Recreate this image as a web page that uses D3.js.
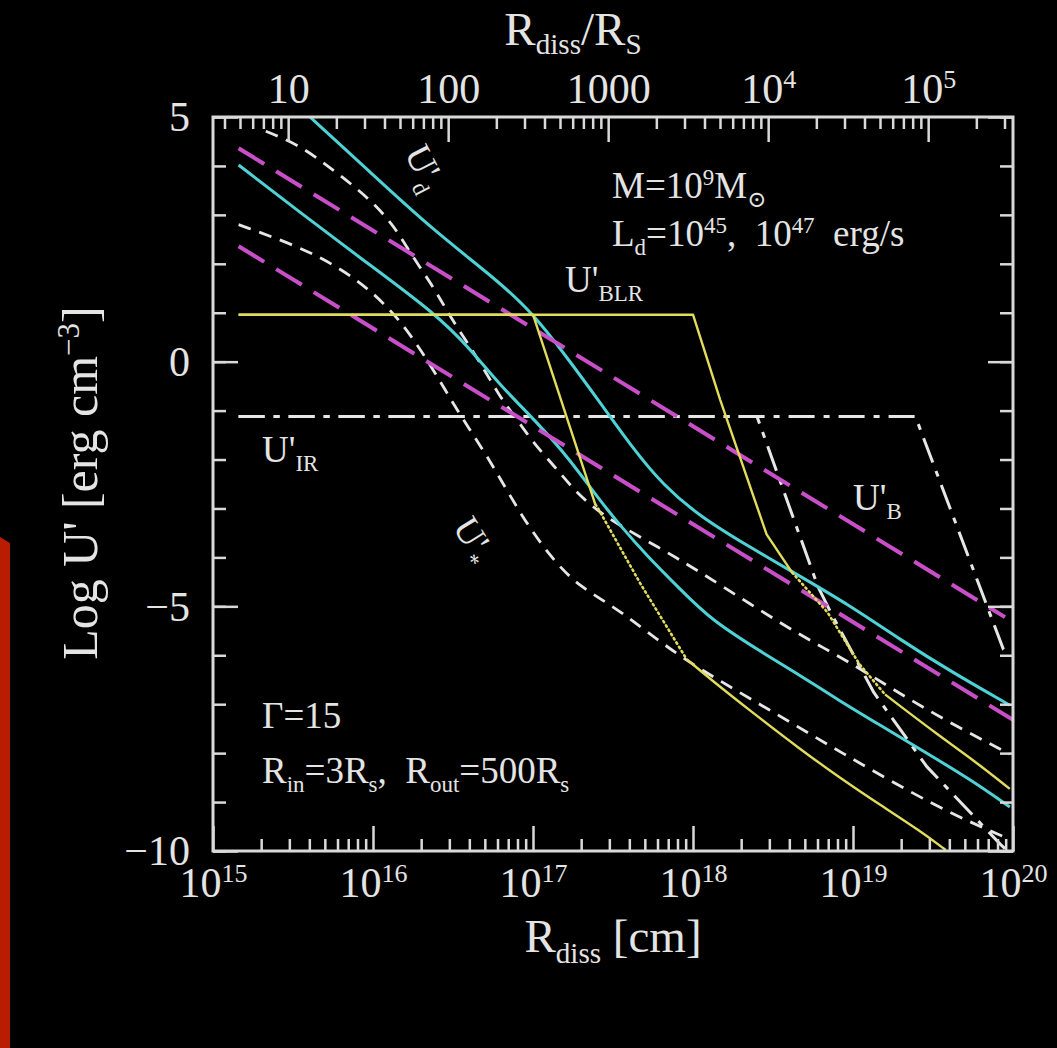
<!DOCTYPE html>
<html><head><meta charset="utf-8">
<script src="https://cdn.jsdelivr.net/npm/d3@7"></script>
<style>
html,body{margin:0;padding:0;background:#000;}
svg{display:block;}
text{font-family:"Liberation Serif","DejaVu Serif",serif;fill:#e4e4e4;white-space:pre;}
</style>
</head><body>
<svg id="chart" width="1057" height="1048"></svg>
<script>
// ---------------- data (log10 R [cm], log10 U' [erg cm^-3]) ----------------
const RS_CM = 2.95e14;                       // Schwarzschild radius for M = 1e9 Msun
const xMajor = [15, 16, 17, 18, 19, 20];
const xMajorExp = ["15", "16", "17", "18", "19", "20"];
const yMajor = [-10, -5, 0, 5];
const yMajorLabels = ["\u221210", "\u22125", "0", "5"];
const yMinor = [-10,-9,-8,-7,-6,-5,-4,-3,-2,-1,0,1,2,3,4,5];
const rsMajor = [10, 100, 1000, 1e4, 1e5];
const rsLabels = [["10",""], ["100",""], ["1000",""], ["10","4"], ["10","5"]];

// U'_d (disk), L = 1e47 and 1e45
const ud47 = [[15.59,5.05],[15.98,3.88],[16.36,2.73],[16.79,1.63],[17.0,0.98],[17.21,0.10],[17.42,-0.84],[17.63,-1.80],[17.81,-2.51],[18.04,-3.16],[18.36,-3.80],[18.63,-4.31],[18.98,-4.98],[19.29,-5.67],[19.61,-6.33],[19.98,-7.02]];
const ud45 = [[15.16,4.02],[15.54,3.06],[15.92,2.12],[16.40,0.96],[16.61,0.25],[16.79,-0.47],[17.04,-1.29],[17.23,-2.0],[17.40,-2.76],[17.54,-3.33],[17.71,-3.96],[17.92,-4.65],[18.11,-5.27],[18.42,-5.92],[18.67,-6.41],[18.92,-6.94],[19.17,-7.43],[19.44,-7.96],[19.73,-8.53],[19.98,-9.10]];
// U'_B (magnetic)
const ub47 = [[15.16,4.36],[19.95,-5.22]];
const ub45 = [[15.16,2.36],[20.0,-7.32]];
// U'_BLR
const blr45 = [[15.16,0.96],[17.0,0.96],[17.39,-2.92]];
const blr45Dot = [[17.39,-2.92],[17.40,-2.96],[17.67,-4.53],[17.96,-6.08]];
const blr45Tail = [[17.96,-6.08],[18.11,-6.49],[18.36,-7.14],[18.67,-7.92],[18.92,-8.51],[19.17,-9.06],[19.42,-9.59],[19.58,-9.98]];
const blr47 = [[15.16,0.96],[18.0,0.96],[18.17,-0.78],[18.46,-3.53],[18.62,-4.31]];
const blr47Dot = [[18.62,-4.31],[18.84,-5.12],[19.04,-6.18],[19.20,-6.80]];
const blr47Tail = [[19.20,-6.80],[19.54,-7.65],[19.76,-8.16],[19.98,-8.73]];
// U'_IR (torus)
const ir45 = [[15.16,-1.12],[18.40,-1.12],[18.78,-4.59],[18.86,-5.12],[19.13,-6.76],[19.46,-8.27],[19.92,-9.86],[19.95,-9.95]];
const ir47 = [[15.16,-1.12],[19.39,-1.12],[19.94,-5.88],[19.98,-5.98]];
// U'_* (white dashed)
const us45 = [[15.16,2.80],[15.54,2.35],[15.79,1.92],[15.98,1.47],[16.17,0.86],[16.36,-0.06],[16.54,-1.08],[16.73,-2.0],[16.92,-3.12],[17.11,-4.0],[17.29,-4.61],[17.54,-5.06],[17.90,-6.02],[18.42,-7.0],[18.92,-7.98],[19.54,-9.14],[19.98,-9.76]];
const us47 = [[15.33,4.71],[15.54,4.43],[15.75,3.92],[15.95,3.41],[16.12,2.84],[16.24,2.18],[16.39,1.47],[16.48,0.92],[16.65,0.10],[16.79,-0.71],[16.90,-1.18],[17.0,-1.65],[17.15,-2.20],[17.29,-2.75],[17.48,-3.24],[17.79,-3.80],[18.04,-4.29],[18.36,-4.96],[18.67,-5.59],[18.98,-6.14],[19.29,-6.78],[19.61,-7.39],[19.98,-8.02]];

// ---------------- drawing ----------------
const W = 1057, H = 1048;
const P = {l:213, r:1013, t:117, b:851};
const svg = d3.select("#chart");
svg.append("rect").attr("width", W).attr("height", H).attr("fill", "#000");
svg.append("path").attr("d", "M0,537L10,543L10,1048L0,1048Z").attr("fill", "#b81d04");

const x = d3.scaleLinear().domain([15, 20]).range([P.l, P.r]);
const y = d3.scaleLinear().domain([-10, 5]).range([P.b, P.t]);
const xr = d3.scaleLog().domain([1e15 / RS_CM, 1e20 / RS_CM]).range([P.l, P.r]);

const C = {cyan:"#4fd2d6", mag:"#c94fc9", yel:"#e2dc5c", wht:"#e6e6e6", frame:"#d9d9d9"};

function rich(t, parts, fs, subK) {
  let cur = 0;
  const sk = subK || 0.24;
  parts.forEach(([s, mode]) => {
    if (!s) return;
    const target = mode === "sup" ? -0.36 * fs : mode === "sub" ? sk * fs : 0;
    const ts = t.append("tspan").attr("dy", target - cur).text(s);
    if (mode) ts.attr("font-size", fs * 0.62);
    cur = target;
  });
}

svg.append("clipPath").attr("id", "clip").append("rect")
  .attr("x", P.l).attr("y", P.t).attr("width", P.r - P.l).attr("height", P.b - P.t);
const plot = svg.append("g").attr("clip-path", "url(#clip)");

const lineS = d3.line().x(d => x(d[0])).y(d => y(d[1])).curve(d3.curveBasis);
const lineL = d3.line().x(d => x(d[0])).y(d => y(d[1]));

function draw(data, gen, color, width, dash) {
  const p = plot.append("path").attr("d", gen(data)).attr("fill", "none")
    .attr("stroke", color).attr("stroke-width", width).attr("stroke-linejoin", "round");
  if (dash) p.attr("stroke-dasharray", dash);
  return p;
}

// IR dash-dot
draw(ir47, lineL, C.wht, 3, "26,9,6,9");
draw(ir45, lineL, C.wht, 3, "26,9,6,9");
// U'_* dashed
draw(us47, lineS, C.wht, 2.8, "13,9");
draw(us45, lineS, C.wht, 2.8, "13,9");
// cyan
draw(ud47, lineS, C.cyan, 3);
draw(ud45, lineS, C.cyan, 3);
// magenta
draw(ub47, lineL, C.mag, 4, "30,14");
draw(ub45, lineL, C.mag, 4, "30,14");
// BLR
draw(blr47, lineL, C.yel, 2.4);
draw(blr45, lineL, C.yel, 2.4);
draw(blr47Dot, lineL, C.yel, 2.6, "1.5,3.5").attr("stroke-linecap", "round");
draw(blr45Dot, lineL, C.yel, 2.6, "1.5,3.5").attr("stroke-linecap", "round");
draw(blr47Tail, lineS, C.yel, 2.4);
draw(blr45Tail, lineS, C.yel, 2.4);

// ---------------- axes ----------------
function styleAxis(g) {
  g.select(".domain").remove();
  g.selectAll(".tick line").attr("stroke", C.frame).attr("stroke-width", 2.5);
}
const minorX = [];
for (let d = 15; d < 20; d++) for (let k = 2; k <= 9; k++) minorX.push(d + Math.log10(k));
const minorR = [];
for (let e = 0; e <= 5; e++) for (let k = 1; k <= 9; k++) {
  const r = k * Math.pow(10, e);
  if (r >= xr.domain()[0] && r <= xr.domain()[1] && !rsMajor.includes(r)) minorR.push(r);
}

// bottom
svg.append("g").attr("transform", `translate(0,${P.b})`)
  .call(d3.axisBottom(x).tickValues(minorX).tickSize(-12).tickFormat("")).call(styleAxis);
const gb = svg.append("g").attr("transform", `translate(0,${P.b})`)
  .call(d3.axisBottom(x).tickValues(xMajor).tickSize(-25).tickPadding(0).tickFormat("")).call(styleAxis);
gb.selectAll(".tick text").each(function(d, i) {
  const t = d3.select(this).attr("y", 46).attr("dy", null).attr("font-size", 42).attr("fill", "#e4e4e4")
    .attr("text-anchor", "middle");
  rich(t, [["10", ""], [xMajorExp[i], "sup"]], 42);
});
// top
svg.append("g").attr("transform", `translate(0,${P.t})`)
  .call(d3.axisTop(xr).tickValues(minorR).tickSize(-12).tickFormat("")).call(styleAxis);
const gt = svg.append("g").attr("transform", `translate(0,${P.t})`)
  .call(d3.axisTop(xr).tickValues(rsMajor).tickSize(-25).tickPadding(0).tickFormat("")).call(styleAxis);
gt.selectAll(".tick text").each(function(d, i) {
  const t = d3.select(this).attr("y", -14).attr("dy", null).attr("font-size", 42).attr("fill", "#e4e4e4")
    .attr("text-anchor", "middle");
  rich(t, [[rsLabels[i][0], ""], [rsLabels[i][1], "sup"]], 42);
});
// left
svg.append("g").attr("transform", `translate(${P.l},0)`)
  .call(d3.axisLeft(y).tickValues(yMinor).tickSize(-13).tickFormat("")).call(styleAxis);
const gl = svg.append("g").attr("transform", `translate(${P.l},0)`)
  .call(d3.axisLeft(y).tickValues(yMajor).tickSize(-25).tickPadding(23).tickFormat((d, i) => yMajorLabels[i])).call(styleAxis);
gl.selectAll(".tick text").attr("font-size", 42).attr("fill", "#e4e4e4").attr("dy", "0.33em");
// right
svg.append("g").attr("transform", `translate(${P.r},0)`)
  .call(d3.axisRight(y).tickValues(yMinor).tickSize(-13).tickFormat("")).call(styleAxis);
svg.append("g").attr("transform", `translate(${P.r},0)`)
  .call(d3.axisRight(y).tickValues(yMajor).tickSize(-25).tickFormat("")).call(styleAxis);

// frame
svg.append("rect").attr("x", P.l).attr("y", P.t).attr("width", P.r - P.l).attr("height", P.b - P.t)
  .attr("fill", "none").attr("stroke", C.frame).attr("stroke-width", 3);

// ---------------- titles ----------------
rich(svg.append("text").attr("x", 573).attr("y", 45).attr("text-anchor", "middle").attr("font-size", 47),
  [["R", ""], ["diss", "sub"], ["/R", ""], ["S", "sub"]], 47, 0.2);
rich(svg.append("text").attr("x", 613).attr("y", 952).attr("text-anchor", "middle").attr("font-size", 47),
  [["R", ""], ["diss", "sub"], [" [cm]", ""]], 47);
rich(svg.append("text").attr("transform", "translate(97,483) rotate(-90)").attr("text-anchor", "middle").attr("font-size", 50),
  [["Log U' [erg cm", ""], ["\u22123", "sup"], ["]", ""]], 50);

// ---------------- annotations ----------------
const FS = 37;
function note(xp, yp, parts, color, rot) {
  const t = svg.append("text").attr("font-size", FS).attr("fill", color || "#e4e4e4");
  if (rot) t.attr("transform", `translate(${xp},${yp}) rotate(${rot})`);
  else t.attr("x", xp).attr("y", yp);
  rich(t, parts, FS);
  return t;
}
note(612, 198, [["M=10", ""], ["9", "sup"], ["M", ""], ["\u2299", "sub"]]);
note(612, 246, [["L", ""], ["d", "sub"], ["=10", ""], ["45", "sup"], [",  10", ""], ["47", "sup"], ["  erg/s", ""]]);
note(565, 292, [["U'", ""], ["BLR", "sub"]], C.yel);
note(262, 462, [["U'", ""], ["IR", "sub"]]);
note(853, 510, [["U'", ""], ["B", "sub"]], C.mag);
note(262, 728, [["\u0393=15", ""]]);
note(262, 783, [["R", ""], ["in", "sub"], ["=3R", ""], ["s", "sub"], [",  R", ""], ["out", "sub"], ["=500R", ""], ["s", "sub"]]);
note(404, 153, [["U'", ""], ["d", "sub"]], C.cyan, 63);
note(452, 527, [["U'", ""], ["*", "sub"]], "#e4e4e4", 58);
</script>
</body></html>
